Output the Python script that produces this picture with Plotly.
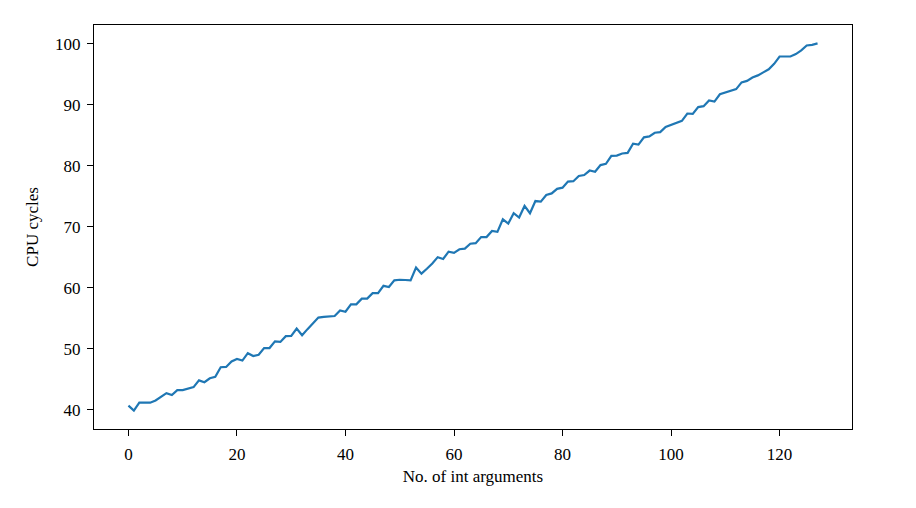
import plotly.graph_objects as go

# number of int arguments passed
n_args = list(range(128))

# measured CPU cycles per call
cycles = [
    40.66, 39.84, 41.15, 41.15, 41.15, 41.5, 42.1, 42.7, 42.4, 43.2,
    43.2, 43.4, 43.7, 44.8, 44.5, 45.15, 45.4, 46.96, 47.0, 47.9,
    48.3, 48.05, 49.26, 48.8, 49.0, 50.1, 50.1, 51.2, 51.1, 52.05,
    52.1, 53.3, 52.2, 53.2, 54.2, 55.1, 55.2, 55.3, 55.35, 56.27,
    56.05, 57.26, 57.26, 58.2, 58.2, 59.1, 59.1, 60.3, 60.1, 61.2,
    61.3, 61.26, 61.2, 63.3, 62.3, 63.1, 63.95, 65.0, 64.7, 65.9,
    65.7, 66.3, 66.4, 67.2, 67.3, 68.3, 68.3, 69.3, 69.15, 71.2,
    70.5, 72.2, 71.5, 73.4, 72.2, 74.2, 74.1, 75.2, 75.45, 76.2,
    76.4, 77.4, 77.45, 78.3, 78.47, 79.2, 79.0, 80.1, 80.3, 81.6,
    81.65, 82.0, 82.1, 83.6, 83.45, 84.65, 84.8, 85.4, 85.5, 86.35,
    86.7, 87.1, 87.35, 88.55, 88.5, 89.6, 89.75, 90.7, 90.5, 91.7,
    92.0, 92.3, 92.55, 93.65, 93.9, 94.45, 94.8, 95.3, 95.8, 96.7,
    97.9, 97.9, 97.9, 98.3, 98.9, 99.7, 99.8, 100.05,
]

x_ticks = [0, 20, 40, 60, 80, 100, 120]
y_ticks = [40, 50, 60, 70, 80, 90, 100]

fig = go.Figure()
fig.add_trace(go.Scatter(x=n_args, y=cycles, mode='lines',
                         line=dict(color='#1f77b4', width=2.2)))

# matplotlib-like 5% padding on both axes
x_pad = (max(n_args) - min(n_args)) * 0.05
y_pad = (max(cycles) - min(cycles)) * 0.05

font = dict(family='Liberation Serif', size=17, color='black')
axis_style = dict(showline=True, linecolor='black', linewidth=1.2, mirror=True,
                  showgrid=False, zeroline=False, ticks='outside', ticklen=6,
                  tickwidth=1, tickcolor='black', ticklabelstandoff=3,
                  tickfont=font)

fig.update_xaxes(range=[min(n_args) - x_pad, max(n_args) + x_pad],
                 tickvals=x_ticks,
                 title=dict(text='No. of int arguments', standoff=7, font=font),
                 **axis_style)
fig.update_yaxes(range=[min(cycles) - y_pad, max(cycles) + y_pad],
                 tickvals=y_ticks,
                 title=dict(text='CPU cycles', standoff=12, font=font),
                 **axis_style)

# page has an 8px body margin, so margins are shifted to land the frame in place
fig.update_layout(width=916, height=508, showlegend=False,
                  plot_bgcolor='white', paper_bgcolor='white',
                  margin=dict(l=86, r=72, t=17, b=87, autoexpand=False))

fig.write_html("out.html")
